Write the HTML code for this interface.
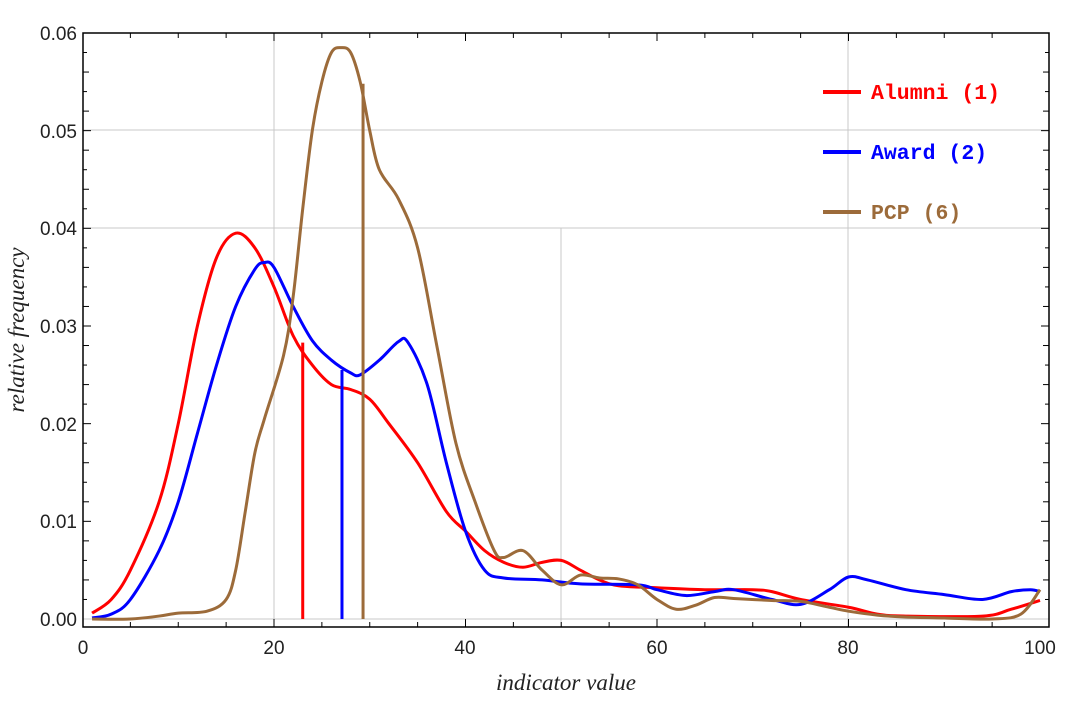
<!DOCTYPE html>
<html><head><meta charset="utf-8"><style>
html,body{margin:0;padding:0;background:#fff;}
svg text{font-family:"Liberation Sans",sans-serif;}
</style></head><body>
<svg id="s" width="1090" height="697" xmlns="http://www.w3.org/2000/svg">
<g stroke="#c8c8c8" stroke-width="1">
<line x1="83" x2="1049" y1="619" y2="619"/>
<line x1="83" x2="1049" y1="228" y2="228"/>
<line x1="83" x2="1049" y1="130" y2="130"/>
<line x1="274" x2="274" y1="33" y2="627"/>
<line x1="848" x2="848" y1="33" y2="627"/>
<line x1="561" x2="561" y1="228" y2="627"/>
</g>
<rect x="83" y="33" width="966" height="594" fill="none" stroke="#000" stroke-width="1.5"/>
<g id="ticks" stroke="#000" stroke-width="1"></g>
<g id="curves" fill="none" stroke-width="3" stroke-linejoin="round"></g>
<g font-size="19" fill="#222">
<text x="77" y="626" text-anchor="end">0.00</text>
<text x="77" y="528" text-anchor="end">0.01</text>
<text x="77" y="431" text-anchor="end">0.02</text>
<text x="77" y="333" text-anchor="end">0.03</text>
<text x="77" y="235" text-anchor="end">0.04</text>
<text x="77" y="138" text-anchor="end">0.05</text>
<text x="77" y="40" text-anchor="end">0.06</text>
<text x="83" y="654" text-anchor="middle">0</text>
<text x="274" y="654" text-anchor="middle">20</text>
<text x="465" y="654" text-anchor="middle">40</text>
<text x="657" y="654" text-anchor="middle">60</text>
<text x="848" y="654" text-anchor="middle">80</text>
<text x="1040" y="654" text-anchor="middle">100</text>
</g>
<text x="566" y="690" text-anchor="middle" font-size="23" font-style="italic" style="font-family:'Liberation Serif',serif" fill="#222">indicator value</text>
<text transform="translate(24,330) rotate(-90)" text-anchor="middle" font-size="23" font-style="italic" style="font-family:'Liberation Serif',serif" fill="#222">relative frequency</text>
<g stroke-width="4">
<line x1="823" x2="861" y1="92" y2="92" stroke="#ff0000"/>
<line x1="823" x2="861" y1="152" y2="152" stroke="#0000ff"/>
<line x1="823" x2="861" y1="212" y2="212" stroke="#9c6b3a"/>
</g>
<g font-size="21.5" font-weight="bold">
<text x="871" y="99" fill="#ff0000" style="font-family:'Liberation Mono',monospace">Alumni (1)</text>
<text x="871" y="159" fill="#0000ff" style="font-family:'Liberation Mono',monospace">Award (2)</text>
<text x="871" y="219" fill="#9c6b3a" style="font-family:'Liberation Mono',monospace">PCP (6)</text>
</g>
</svg>
<script>
var X=function(x){return 82.5+9.575*x},Y=function(y){return 619-9767*y};
var t=document.getElementById("ticks"),h="";
for(var i=5;i<100;i+=5){var L=(i%20==0)?8:5;h+='<line x1="'+X(i)+'" x2="'+X(i)+'" y1="627" y2="'+(627-L)+'"/><line x1="'+X(i)+'" x2="'+X(i)+'" y1="33" y2="'+(33+L)+'"/>';}
for(var k=1;k<30;k++){var v=k*0.002,L=(k%5==0)?8:(k%2==0?6:4);h+='<line x1="83" x2="'+(83+L)+'" y1="'+Y(v)+'" y2="'+Y(v)+'"/><line x1="1049" x2="'+(1049-L)+'" y1="'+Y(v)+'" y2="'+Y(v)+'"/>';}
t.innerHTML=h;
function path(d){var p=d.map(function(a){return [X(a[0]),Y(a[1])]});var s="M"+p[0][0]+","+p[0][1];
for(var i=0;i<p.length-1;i++){var p0=p[i-1]||p[i],p1=p[i],p2=p[i+1],p3=p[i+2]||p2;
s+=" C"+(p1[0]+(p2[0]-p0[0])/6)+","+(p1[1]+(p2[1]-p0[1])/6)+" "+(p2[0]-(p3[0]-p1[0])/6)+","+(p2[1]-(p3[1]-p1[1])/6)+" "+p2[0]+","+p2[1];}
return s;}
var red=[[1,0.0006],[3,0.002],[5,0.005],[8,0.012],[10,0.02],[12,0.03],[14,0.037],[16,0.0395],[18,0.038],[20,0.034],[22,0.029],[24,0.026],[26,0.024],[28,0.0235],[30,0.0225],[32,0.02],[35,0.016],[38,0.011],[40,0.009],[42,0.007],[44,0.0058],[46,0.0053],[48,0.0058],[50,0.006],[52,0.005],[54,0.004],[56,0.0034],[60,0.0032],[65,0.003],[70,0.003],[72,0.0028],[75,0.002],[80,0.0012],[83,0.0005],[86,0.0003],[94,0.0003],[97,0.001],[100,0.0019]];
var blue=[[1,0.0001],[3,0.0005],[5,0.002],[8,0.007],[10,0.012],[12,0.019],[14,0.026],[16,0.032],[18,0.0358],[19,0.0365],[20,0.036],[22,0.032],[24,0.0285],[26,0.0265],[28,0.0252],[29,0.025],[31,0.0265],[33,0.0284],[34,0.0283],[36,0.024],[38,0.016],[40,0.009],[42,0.005],[44,0.0042],[48,0.004],[52,0.0036],[58,0.0035],[60,0.003],[63,0.0024],[66,0.0028],[68,0.003],[72,0.002],[75,0.0015],[78,0.003],[80,0.0043],[82,0.004],[86,0.003],[90,0.0025],[94,0.002],[97,0.0028],[99,0.003],[100,0.0028]];
var brown=[[1,0],[5,0],[8,0.0003],[10,0.0006],[13,0.0008],[15,0.002],[16,0.005],[17,0.011],[18,0.017],[19,0.0205],[21,0.027],[22,0.033],[23,0.042],[24,0.05],[25,0.055],[26,0.058],[27,0.0585],[28,0.058],[29,0.055],[30,0.05],[31,0.046],[33,0.043],[35,0.038],[37,0.028],[39,0.018],[41,0.012],[43,0.007],[44,0.0063],[46,0.007],[48,0.005],[50,0.0035],[52,0.0045],[54,0.0042],[56,0.0041],[58,0.0035],[60,0.002],[62,0.001],[64,0.0014],[66,0.0022],[68,0.0021],[72,0.0019],[75,0.0018],[78,0.0012],[80,0.0008],[83,0.0004],[86,0.0002],[90,0.0001],[95,0],[98,0.0005],[100,0.003]];
var c=document.getElementById("curves");
c.innerHTML='<path d="'+path(red)+'" stroke="#ff0000"/><path d="'+path(blue)+'" stroke="#0000ff"/><path d="'+path(brown)+'" stroke="#9c6b3a"/>'+
'<line x1="'+X(23)+'" x2="'+X(23)+'" y1="619" y2="'+Y(0.0283)+'" stroke="#ff0000"/>'+
'<line x1="'+X(27.1)+'" x2="'+X(27.1)+'" y1="619" y2="'+Y(0.0255)+'" stroke="#0000ff"/>'+
'<line x1="'+X(29.3)+'" x2="'+X(29.3)+'" y1="619" y2="'+Y(0.0548)+'" stroke="#9c6b3a"/>';
</script>
</body></html>
